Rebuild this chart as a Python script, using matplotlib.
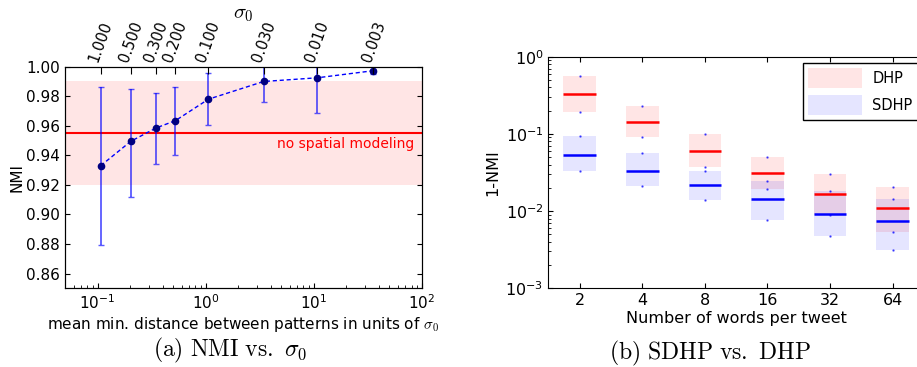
import numpy as np
import matplotlib
matplotlib.use('Agg')
import matplotlib.pyplot as plt
from matplotlib.patches import Patch

plt.rcParams['font.family'] = 'DejaVu Sans'
plt.rcParams['font.size'] = 11
plt.rcParams['mathtext.fontset'] = 'cm'
plt.rcParams['xtick.direction'] = 'in'
plt.rcParams['ytick.direction'] = 'in'
plt.rcParams['xtick.top'] = True
plt.rcParams['ytick.right'] = True

# ---- (a) NMI vs sigma_0 ----
dist = [0.107, 0.203, 0.347, 0.525, 1.06, 3.44, 10.8, 35.6]
sigma_labels = ['1.000', '0.500', '0.300', '0.200', '0.100', '0.030', '0.010', '0.003']
nmi = [0.933, 0.9495, 0.9585, 0.9635, 0.978, 0.990, 0.9925, 0.9973]
nmi_lo = [0.879, 0.9115, 0.934, 0.9405, 0.9604, 0.9758, 0.9688, 0.9949]
nmi_hi = [0.9865, 0.985, 0.9822, 0.9865, 0.9956, 1.0042, 1.016, 0.9985]
baseline = 0.955
baseline_band = (0.92, 0.99)

# ---- (b) SDHP vs DHP ----
words = ['2', '4', '8', '16', '32', '64']
dhp_med = [0.329, 0.144, 0.060, 0.0312, 0.0168, 0.0110]
dhp_lo = [0.192, 0.0912, 0.0376, 0.0193, 0.0089, 0.0054]
dhp_hi = [0.562, 0.232, 0.1006, 0.0498, 0.0299, 0.0205]
sdhp_med = [0.0533, 0.0334, 0.0218, 0.0145, 0.00925, 0.0075]
sdhp_lo = [0.0334, 0.0214, 0.0138, 0.00767, 0.00476, 0.00313]
sdhp_hi = [0.0937, 0.056, 0.0327, 0.0248, 0.0184, 0.0142]

fig = plt.figure(figsize=(9.17, 3.67), dpi=100)

# left panel
ax1 = fig.add_axes([65/917, 1 - 288.3/367, 357/917, 221.6/367])
ax1.set_xscale('log')
ax1.axhspan(baseline_band[0], baseline_band[1], color='red', alpha=0.1, lw=0)
ax1.axhline(baseline, color='red', lw=1.5)
ax1.text(85, 0.9475, 'no spatial modeling', color='red', ha='right', va='center', fontsize=10)
nmi_arr = np.array(nmi)
yerr = [nmi_arr - np.array(nmi_lo), np.array(nmi_hi) - nmi_arr]
ax1.errorbar(dist, nmi, yerr=yerr, fmt='none', ecolor=(0, 0, 1, 0.65), elinewidth=1.3,
             capsize=2, capthick=1)
ax1.plot(dist, nmi, '--', color='blue', lw=1, dashes=(3, 2))
ax1.plot(dist, nmi, 'o', color='navy', ms=4.5, mec='navy')
ax1.set_xlim(0.05, 100)
ax1.set_ylim(0.85, 1.0)
ax1.set_yticks(np.arange(0.86, 1.001, 0.02))
ax1.set_yticklabels(['%.2f' % v for v in np.arange(0.86, 1.001, 0.02)])
ax1.set_xlabel(r'mean min. distance between patterns in units of $\sigma_0$', labelpad=2)
ax1.set_ylabel('NMI', labelpad=1)

top = ax1.twiny()
top.set_xscale('log')
top.set_xlim(ax1.get_xlim())
top.set_xticks(dist)
top.set_xticklabels(sigma_labels, rotation=70, ha='center', va='bottom', fontsize=10.5)
top.minorticks_off()
top.tick_params(axis='x', length=5, pad=2)
fig.text(243/917, 1 - 14/367, r'$\sigma_0$', ha='center', va='center', fontsize=15)

# right panel
ax2 = fig.add_axes([548.3/917, 1 - 288.3/367, 375.7/917, 231.6/367])
ax2.set_yscale('log')
xpos = np.arange(len(words))
w = 0.52
lo_d, hi_d = np.array(dhp_lo), np.array(dhp_hi)
lo_s, hi_s = np.array(sdhp_lo), np.array(sdhp_hi)
ax2.bar(xpos, hi_d - lo_d, bottom=lo_d, width=w, color='red', alpha=0.1, lw=0, label='DHP')
ax2.bar(xpos, hi_s - lo_s, bottom=lo_s, width=w, color='blue', alpha=0.1, lw=0, label='SDHP')
ax2.hlines(dhp_med, xpos - w/2, xpos + w/2, color='red', lw=1.8)
ax2.hlines(sdhp_med, xpos - w/2, xpos + w/2, color='blue', lw=1.8)
for arr in (dhp_lo, dhp_hi, sdhp_lo, sdhp_hi):
    ax2.plot(xpos, arr, '.', color='blue', ms=1.5, alpha=0.6)
ax2.set_xlim(-0.5, 5.5)
ax2.set_ylim(1e-3, 1)
ax2.set_xticks(xpos)
ax2.set_xticklabels(words, fontsize=11.5)
ax2.tick_params(axis='y', labelsize=11.5)
ax2.set_xlabel('Number of words per tweet', labelpad=2, fontsize=11.5)
ax2.set_ylabel('1-NMI', labelpad=4, fontsize=11.5)
ax2.legend(handles=[Patch(color='red', alpha=0.1, lw=0), Patch(color='blue', alpha=0.1, lw=0)],
           labels=['DHP', 'SDHP'], loc='upper left',
           bbox_to_anchor=(803/917, 1 - 63.3/367), bbox_transform=fig.transFigure,
           borderaxespad=0, fancybox=False, framealpha=1, edgecolor='black', fontsize=10.5,
           handlelength=3.7, handleheight=1.7, handletextpad=0.7, labelspacing=0.5,
           borderpad=0.35)

fig.text(230/917, 1 - 350/367, r'$\mathrm{(a)\ NMI\ vs.\ }\sigma_0$', ha='center', va='center', fontsize=17)
fig.text(710/917, 1 - 353/367, r'$\mathrm{(b)\ SDHP\ vs.\ DHP}$', ha='center', va='center', fontsize=17)

fig.savefig('out.png', dpi=100)
